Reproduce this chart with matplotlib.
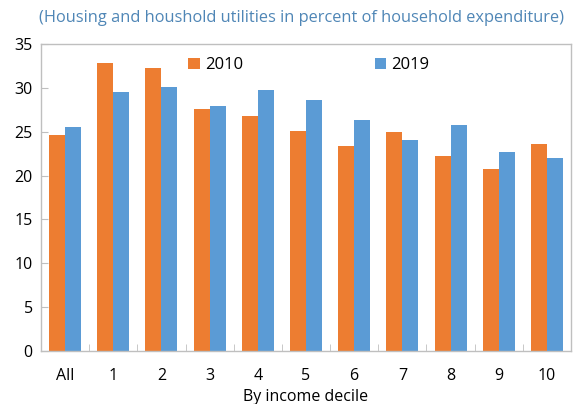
import matplotlib.pyplot as plt
import numpy as np

plt.rcParams['font.family'] = ['Open Sans', 'DejaVu Sans']

# Data
categories = ['All', '1', '2', '3', '4', '5', '6', '7', '8', '9', '10']
values_2010 = [24.6, 32.8, 32.3, 27.6, 26.8, 25.1, 23.4, 25.0, 22.2, 20.8, 23.6]
values_2019 = [25.5, 29.5, 30.1, 27.9, 29.8, 28.6, 26.3, 24.0, 25.8, 22.7, 22.0]

orange = '#ED7D31'
blue = '#5B9BD5'
grid_gray = '#BFBFBF'

fig = plt.figure(figsize=(5.73, 4.04), dpi=100)
ax = fig.add_axes([41 / 573, 1 - 351 / 404, 530 / 573, 307 / 404])

x = np.arange(len(categories))
w = 0.333
ax.bar(x - w / 2, values_2010, w, color=orange, label='2010')
ax.bar(x + w / 2, values_2019, w, color=blue, label='2019')

ax.set_xlim(-0.5, len(categories) - 0.5)
ax.set_ylim(0, 35)
ax.set_yticks(range(0, 36, 5))
ax.set_xticks(x)
ax.set_xticklabels(categories)
ax.set_xticks(np.arange(-0.5, len(categories), 1), minor=True)

for s in ax.spines.values():
    s.set_color(grid_gray)
    s.set_linewidth(1)

ax.tick_params(axis='x', which='major', length=0, pad=12, labelsize=11.5)
ax.tick_params(axis='x', which='minor', length=5, direction='in', color=grid_gray)
ax.tick_params(axis='y', length=5, direction='in', color=grid_gray, labelsize=11.5, pad=6)

ax.set_xlabel('By income decile', fontsize=11.5, labelpad=4)

fig.text(0.527, 0.955, '(Housing and houshold utilities in percent of household expenditure)',
         ha='center', va='center', color='#4F86B6', fontsize=11.8)

ax.legend(loc='center', bbox_to_anchor=(0.505, 0.93), ncol=2, frameon=False,
          fontsize=12, columnspacing=7.9, handlelength=0.7, handleheight=0.7,
          handletextpad=0.3)

fig.savefig('out.png', dpi=100)
